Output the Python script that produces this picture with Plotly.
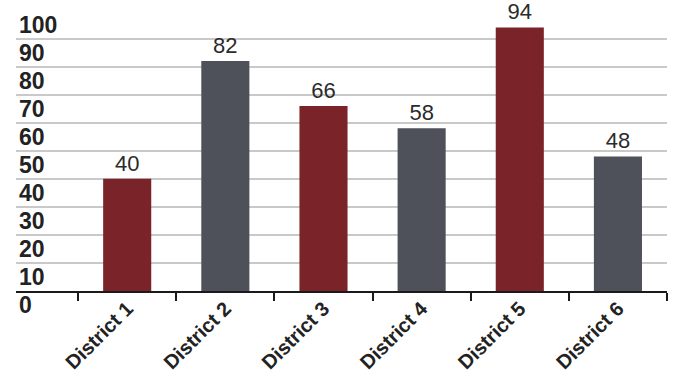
import plotly.graph_objects as go

# chart data
districts = ["District 1", "District 2", "District 3", "District 4", "District 5", "District 6"]
values = [40, 82, 66, 58, 94, 48]
bar_colors = ["#7a2429", "#4e5159", "#7a2429", "#4e5159", "#7a2429", "#4e5159"]
y_ticks = [0, 10, 20, 30, 40, 50, 60, 70, 80, 90, 100]

fig = go.Figure()
fig.add_trace(go.Bar(
    x=districts,
    y=values,
    marker=dict(color=bar_colors, line=dict(width=0)),
    width=0.49,
    text=[str(v) for v in values],
    textposition="outside",
    textfont=dict(family="Liberation Sans, Arial", size=22, color="#2b2b2b"),
    cliponaxis=False,
))

fig.update_layout(
    width=678,
    height=373,
    margin=dict(l=16, r=11, t=10, b=82, autoexpand=False),
    paper_bgcolor="white",
    plot_bgcolor="white",
    showlegend=False,
    xaxis=dict(
        range=[-1.133, 5.5],
        automargin=False,
        showgrid=False,
        showline=True,
        linecolor="#1a1a1a",
        linewidth=2,
        ticks="outside",
        tickson="boundaries",
        ticklen=8,
        tickwidth=2,
        tickcolor="#1a1a1a",
        tickangle=-45,
        ticklabelstandoff=-4,
        tickfont=dict(family="Liberation Sans, Arial", size=20, color="#222222", weight="bold"),
    ),
    yaxis=dict(
        range=[0, 100.2],
        automargin=False,
        tickvals=y_ticks,
        ticktext=[str(t) for t in y_ticks],
        showgrid=True,
        gridcolor="#c9c9c9",
        gridwidth=1.5,
        zeroline=False,
        showline=False,
        ticks="",
        ticklabelposition="inside bottom",
        ticklabeloverflow="allow",
        ticklabelshift=-2,
        tickfont=dict(family="Liberation Sans, Arial", size=23, color="#222222", weight="bold"),
    ),
)

# page has a default body margin, drop it so the chart sits at the corner
fig.write_html(
    "out.html",
    config={"displayModeBar": False},
    post_script="document.body.style.margin='0';",
)
